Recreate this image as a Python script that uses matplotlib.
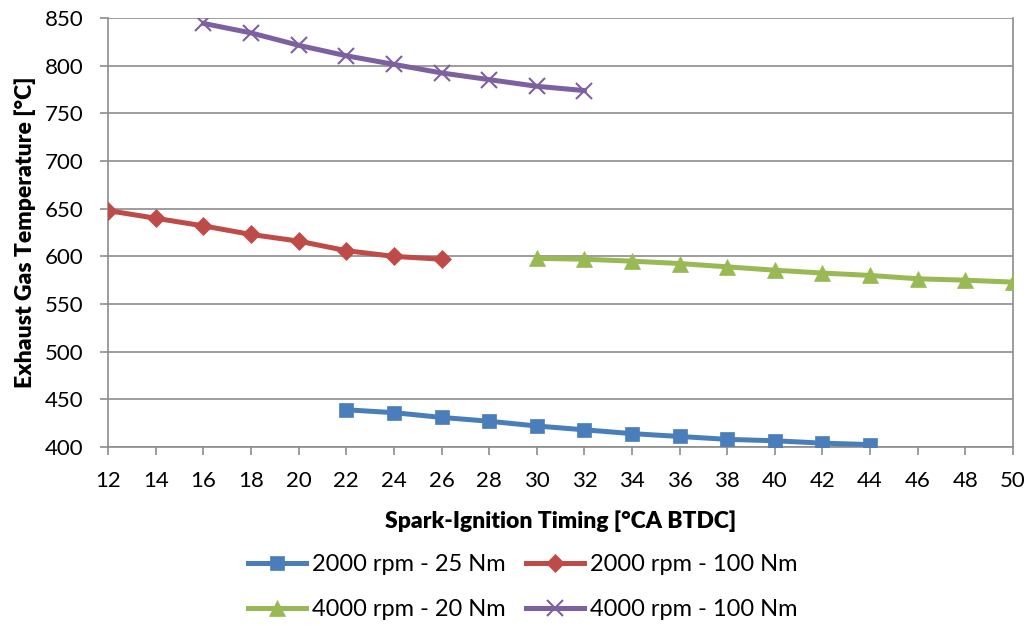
import matplotlib.pyplot as plt

plt.rcParams['font.family'] = ['Lato', 'DejaVu Sans']

timing_2000_25 = [22, 24, 26, 28, 30, 32, 34, 36, 38, 40, 42, 44]
temp_2000_25 = [439, 436, 431, 427, 422, 418, 414, 411, 408, 406.5, 404, 402.5]

timing_2000_100 = [12, 14, 16, 18, 20, 22, 24, 26]
temp_2000_100 = [648, 640, 632, 623, 616, 606, 600, 597]

timing_4000_20 = [30, 32, 34, 36, 38, 40, 42, 44, 46, 48, 50]
temp_4000_20 = [598, 597, 595, 592.5, 589, 585.5, 582.5, 580, 576.5, 575, 573]

timing_4000_100 = [16, 18, 20, 22, 24, 26, 28, 30, 32]
temp_4000_100 = [844.5, 834.5, 821.5, 810.5, 801.5, 792.5, 785.5, 778.5, 774]

series = [
    (timing_2000_25, temp_2000_25, '2000 rpm - 25 Nm', '#4a7ebb', 's', 10),
    (timing_2000_100, temp_2000_100, '2000 rpm - 100 Nm', '#be4b48', 'D', 9),
    (timing_4000_20, temp_4000_20, '4000 rpm - 20 Nm', '#98b954', '^', 11.5),
    (timing_4000_100, temp_4000_100, '4000 rpm - 100 Nm', '#7d60a0', 'x', 11),
]

fig = plt.figure(figsize=(10.31, 6.26), dpi=100)
ax = fig.add_axes([0.105, 0.286, 0.8775, 0.685])

handles = []
for x, y, label, color, marker, ms in series:
    line, = ax.plot(x, y, color=color, linewidth=3.6, marker=marker, markersize=ms,
                    markeredgewidth=1.5 if marker == 'x' else 0.5,
                    markeredgecolor=color, label=label, zorder=3)
    handles.append(line)

ax.set_xlim(12, 50)
ax.set_ylim(400, 850)
ax.set_xticks(range(12, 51, 2))
ax.set_yticks(range(400, 851, 50))
ax.grid(axis='y', color='#8c8c8c', linewidth=1.2)
ax.set_axisbelow(True)
for side in ['left', 'bottom', 'right']:
    ax.spines[side].set_color('#8c8c8c')
    ax.spines[side].set_linewidth(1.2)
ax.spines['top'].set_visible(False)
ax.tick_params(axis='both', colors='#8c8c8c', labelcolor='black', labelsize=16,
               length=6, width=1.2)
ax.tick_params(axis='x', pad=11)
ax.tick_params(axis='y', pad=12)

ax.set_xlabel('Spark-Ignition Timing [°CA BTDC]', fontsize=16.5, fontweight='heavy', labelpad=14)
ax.set_ylabel('Exhaust Gas Temperature [°C]', fontsize=16.5, fontweight='heavy', labelpad=6)

# legend rows: 2000 rpm on top, 4000 rpm below (matplotlib fills column-wise)
order = [0, 2, 1, 3]
fig.legend([handles[i] for i in order], [handles[i].get_label() for i in order],
           loc='center', bbox_to_anchor=(0.507, 0.062), ncol=2, frameon=False,
           fontsize=17, handlelength=2.45, columnspacing=0.9, handletextpad=0.25,
           labelspacing=1.0)

fig.savefig('out.png', dpi=100)
